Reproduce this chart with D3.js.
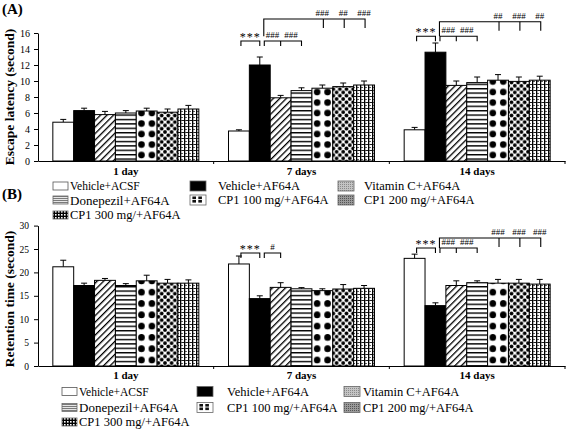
<!DOCTYPE html>
<html><head><meta charset="utf-8">
<script src="https://cdn.jsdelivr.net/npm/d3@7"></script>
<style>
body{margin:0;background:#fff}
svg{display:block}
text{font-family:"Liberation Serif","Times New Roman",serif;fill:#000}
</style>
</head><body>
<svg id="c" width="567" height="429"></svg>
<script>
const categories = ["1 day", "7 days", "14 days"];
const seriesNames = ["Vehicle+ACSF", "Vehicle+AF64A", "Vitamin C+AF64A", "Donepezil+AF64A",
  "CP1 100 mg/+AF64A", "CP1 200 mg/+AF64A", "CP1 300 mg/+AF64A"];

// Escape latency (second): one row per series, one value per category
const escapeMean = [
  [4.85, 3.75, 3.9],
  [6.3, 12.0, 13.6],
  [5.8, 7.9, 9.45],
  [6.0, 8.8, 9.8],
  [6.25, 9.1, 10.1],
  [6.1, 9.3, 9.95],
  [6.5, 9.5, 10.1]
];
const escapeErr = [
  [0.35, 0.15, 0.3],
  [0.3, 1.0, 1.15],
  [0.4, 0.3, 0.55],
  [0.3, 0.35, 0.7],
  [0.35, 0.4, 0.7],
  [0.4, 0.45, 0.55],
  [0.45, 0.5, 0.5]
];
// Retention time (second)
const retentionMean = [
  [21.2, 21.8, 23.0],
  [17.2, 14.4, 12.9],
  [18.3, 16.8, 17.2],
  [17.2, 16.5, 17.8],
  [18.2, 16.1, 17.7],
  [17.7, 16.45, 17.7],
  [17.7, 16.6, 17.5]
];
const retentionErr = [
  [1.4, 1.7, 0.9],
  [0.5, 0.6, 0.6],
  [0.4, 1.0, 1.0],
  [0.4, 0.25, 0.4],
  [1.2, 0.4, 0.8],
  [0.8, 0.95, 0.8],
  [0.7, 0.6, 1.0]
];
const escapeTicks = [0, 2, 4, 6, 8, 10, 12, 14, 16];
const retentionTicks = [0, 5, 10, 15, 20, 25, 30];

// significance brackets: category index, series indices, level in data units
const escapeSig = [
  {cat: 1, kind: "pair", a: 0, b: 1, level: 15.0, text: ["***"]},
  {cat: 1, kind: "multi", a: 1, ticks: [2, 3], level: 15.0, text: ["###", "###"]},
  {cat: 1, kind: "long", a: 1, ticks: [4, 5, 6], level: 17.75, drop: 15.6, text: ["###", "##", "###"]},
  {cat: 2, kind: "pair", a: 0, b: 1, level: 15.6, text: ["***"]},
  {cat: 2, kind: "multi", a: 1, ticks: [2, 3], level: 15.6, text: ["###", "###"]},
  {cat: 2, kind: "long", a: 1, ticks: [4, 5, 6], level: 17.4, drop: 15.6, text: ["##", "###", "##"]}
];
const retentionSig = [
  {cat: 1, kind: "pair", a: 0, b: 1, level: 24.15, text: ["***"]},
  {cat: 1, kind: "multi", a: 1, ticks: [2], level: 24.15, text: ["#"]},
  {cat: 2, kind: "pair", a: 0, b: 1, level: 25.2, text: ["***"]},
  {cat: 2, kind: "multi", a: 1, ticks: [2, 3], level: 25.2, text: ["###", "###"]},
  {cat: 2, kind: "long", a: 1, ticks: [4, 5, 6], level: 27.35, drop: 25.2, text: ["###", "###", "###"]}
];

const svg = d3.select("#c");
const defs = svg.append("defs");

// ---------- global patterns ----------
function pat(id, w, h, extra) {
  const p = defs.append("pattern").attr("id", id).attr("patternUnits", "userSpaceOnUse")
    .attr("width", w).attr("height", h);
  if (extra) Object.entries(extra).forEach(([k, v]) => p.attr(k, v));
  p.append("rect").attr("width", w).attr("height", h).attr("fill", "#fff");
  return p;
}
{ // diagonal "/"
  const p = pat("diag", 4.6, 10, {patternTransform: "rotate(45)"});
  p.append("rect").attr("x", 0).attr("y", 0).attr("width", 1.3).attr("height", 10).attr("fill", "#000");
}
{ // horizontal
  const p = pat("horiz", 10, 4.4);
  p.append("rect").attr("x", 0).attr("y", 0).attr("width", 10).attr("height", 1.4).attr("fill", "#000");
}
{ // small staggered dots
  const p = pat("sdots", 6.6, 6.6);
  [[0, 0], [6.6, 0], [0, 6.6], [6.6, 6.6], [3.3, 3.3]].forEach(([x, y]) =>
    p.append("circle").attr("cx", x).attr("cy", y).attr("r", 1.9).attr("fill", "#000"));
}
{ // weave / grid
  const p = pat("weave", 4, 6);
  p.append("rect").attr("x", 0).attr("y", 0).attr("width", 1.3).attr("height", 6).attr("fill", "#000");
  p.append("rect").attr("x", 1.3).attr("y", 0).attr("width", 2.7).attr("height", 0.9).attr("fill", "#000");
  p.append("rect").attr("x", 1.3).attr("y", 3).attr("width", 1.4).attr("height", 0.9).attr("fill", "#000");
}
// legend patterns
{
  const p = pat("lgVit", 2, 2);
  p.select("rect").attr("fill", "#c4c4c4");
  p.append("rect").attr("width", 1).attr("height", 1).attr("fill", "#8a8a8a");
}
{
  const p = pat("lgDon", 4, 2);
  p.select("rect").attr("fill", "#e6e6e6");
  p.append("rect").attr("width", 4).attr("height", 1).attr("fill", "#7a7a7a");
}
{
  const p = pat("lgC2", 2, 2);
  p.select("rect").attr("fill", "#9a9a9a");
  p.append("rect").attr("width", 1).attr("height", 1).attr("fill", "#555");
}
{
  const p = pat("lgC3", 3, 3);
  p.select("rect").attr("fill", "#000");
  p.append("rect").attr("x", 1).attr("y", 1).attr("width", 1.6).attr("height", 1.6).attr("fill", "#fff");
}

function barFill(si, id) {
  return ["#fff", "#000", "url(#diag)", "url(#horiz)", `url(#${id})`, "url(#sdots)", "url(#weave)"][si];
}

function drawPanel(cfg, means, errs, ticks, sig, yTitle) {
  const g = svg.append("g");
  const x0 = d3.scaleBand().domain(categories).range([cfg.left, cfg.right]);
  const bw = x0.bandwidth();
  const x1 = d3.scaleBand().domain(seriesNames).range([(bw - 146) / 2, (bw + 146) / 2]);
  const y = d3.scaleLinear().domain([0, ticks[ticks.length - 1]]).range([cfg.bottom, cfg.top]);

  // bars
  categories.forEach((cat, ci) => {
    seriesNames.forEach((s, si) => {
      const bx = x0(cat) + x1(s);
      const v = means[si][ci], e = errs[si][ci];
      const id = `bd-${cfg.key}-${ci}`;
      if (si === 4) {
        const p = defs.append("pattern").attr("id", id).attr("patternUnits", "userSpaceOnUse")
          .attr("x", bx).attr("y", cfg.bottom).attr("width", x1.bandwidth() / 2).attr("height", cfg.dotStep);
        p.append("rect").attr("width", x1.bandwidth() / 2).attr("height", cfg.dotStep).attr("fill", "#fff");
        p.append("circle").attr("cx", x1.bandwidth() / 4).attr("cy", cfg.dotStep - 6)
          .attr("r", 3.3).attr("fill", "#000");
      }
      // error bar
      g.append("line").attr("x1", bx + x1.bandwidth() / 2).attr("x2", bx + x1.bandwidth() / 2)
        .attr("y1", y(v)).attr("y2", y(v + e)).attr("stroke", "#000").attr("stroke-width", 1);
      g.append("line").attr("x1", bx + x1.bandwidth() / 2 - 3).attr("x2", bx + x1.bandwidth() / 2 + 3)
        .attr("y1", y(v + e)).attr("y2", y(v + e)).attr("stroke", "#000").attr("stroke-width", 1);
      g.append("rect").attr("x", bx).attr("y", y(v)).attr("width", x1.bandwidth())
        .attr("height", y(0) - y(v)).attr("fill", barFill(si, id))
        .attr("stroke", "#000").attr("stroke-width", 1);
    });
  });

  // y axis
  const ya = g.append("g").attr("transform", `translate(${cfg.left},0)`)
    .call(d3.axisLeft(y).tickValues(ticks).tickSize(4).tickSizeOuter(0).tickPadding(cfg.tickPad));
  ya.selectAll("text").style("font-family", "'Liberation Serif',serif").style("font-size", cfg.tickFont + "px").attr("fill", "#222");
  ya.selectAll("line,path").attr("stroke", "#000");

  // x axis
  const xa = g.append("g").attr("transform", `translate(0,${cfg.bottom})`)
    .call(d3.axisBottom(x0).tickSize(0).tickSizeOuter(0).tickPadding(cfg.catPad));
  xa.selectAll("path").attr("stroke", "#000");
  xa.selectAll("text").style("font-family", "'Liberation Serif',serif").style("font-size", "11px")
    .style("font-weight", "bold").attr("fill", "#000");
  categories.forEach(cat => {
    g.append("line").attr("x1", x0(cat) + bw).attr("x2", x0(cat) + bw)
      .attr("y1", cfg.bottom).attr("y2", cfg.bottom + 3).attr("stroke", "#000");
  });

  // y title
  g.append("text").attr("transform", `translate(${cfg.titleX},${cfg.titleY}) rotate(-90)`)
    .attr("text-anchor", "middle").style("font-size", "13.5px").style("font-weight", "bold").text(yTitle);

  // significance
  const c = (ci, si) => x0(categories[ci]) + x1(seriesNames[si]) + x1.bandwidth() / 2;
  const path = (d) => g.append("path").attr("d", d).attr("fill", "none").attr("stroke", "#000").attr("stroke-width", 1.1);
  const label = (x, yy, t) => {
    const star = t[0] === "*";
    g.append("text").attr("x", x).attr("y", star ? yy : yy - 3).attr("text-anchor", "middle")
      .style("font-size", star ? "12px" : "9px").style("letter-spacing", star ? "1px" : "0px").text(t);
  };
  sig.forEach(b => {
    const ly = y(b.level);
    if (b.kind === "pair") {
      const xa_ = c(b.cat, b.a) + 2, xb = c(b.cat, b.b);
      path(`M${xa_},${ly + 5}V${ly}H${xb}V${ly + 5}`);
      label((xa_ + xb) / 2, ly, b.text[0]);
    } else if (b.kind === "multi") {
      const pts = [c(b.cat, b.a) + 4.5, ...b.ticks.map(t => c(b.cat, t))];
      path(`M${pts[0]},${ly + 5}V${ly}H${pts[pts.length - 1]}V${ly + 5}`);
      pts.slice(1, -1).forEach(px => path(`M${px},${ly}V${ly + 5}`));
      b.text.forEach((t, i) => label((pts[i] + pts[i + 1]) / 2, ly, t));
    } else {
      const xs = c(b.cat, b.a) + 4;
      const tx = b.ticks.map(t => c(b.cat, t) + 1);
      path(`M${xs},${y(b.drop)}V${ly}H${tx[tx.length - 1]}V${ly + 9}`);
      tx.slice(0, -1).forEach(px => path(`M${px},${ly}V${ly + 9}`));
      b.text.forEach((t, i) => label(tx[i] - 1, ly, t));
    }
  });
}

function drawLegend(cfg) {
  const g = svg.append("g");
  const fills = ["#fff", "#000", "url(#lgVit)", "url(#lgDon)", null, "url(#lgC2)", "url(#lgC3)"];
  seriesNames.forEach((s, i) => {
    const col = i % 3, row = Math.floor(i / 3);
    const bx = cfg.boxX[col], ty = cfg.rows[row];
    const w = col === 0 ? 15 : 16, h = col === 0 ? 8 : 10;
    g.append("rect").attr("x", bx).attr("y", ty - h / 2).attr("width", w).attr("height", h)
      .attr("fill", fills[i] || "#fff").attr("stroke", i === 0 ? "#555" : "#666").attr("stroke-width", 0.8);
    if (i === 4) {
      [[0.25, 0.27], [0.62, 0.27], [0.25, 0.62], [0.62, 0.62]].forEach(([fx, fy]) =>
        g.append("rect").attr("x", bx + fx * w - 1.6).attr("y", ty - h / 2 + fy * h - 1.2)
          .attr("width", 3.6).attr("height", 2.6).attr("fill", "#111"));
    }
    g.append("text").attr("x", cfg.textX[col]).attr("y", ty).attr("dy", "0.35em")
      .style("font-size", cfg.fonts[i] + "px").text(s);
  });
}

drawPanel({key: "a", left: 38, right: 565, top: 33, bottom: 161, tickPad: 4, tickFont: 10,
  catPad: 6, titleX: 14, titleY: 97, dotStep: 10.5}, escapeMean, escapeErr, escapeTicks, escapeSig,
  "Escape latency (second)");
drawPanel({key: "b", left: 38, right: 565, top: 225.6, bottom: 366, tickPad: 5, tickFont: 9.5,
  catPad: 5, titleX: 14, titleY: 299, dotStep: 11.3}, retentionMean, retentionErr, retentionTicks, retentionSig,
  "Retention time (second)");

drawLegend({boxX: [53, 190, 338], textX: [70, 218, 364], rows: [186, 200, 215],
  fonts: [11.5, 12.5, 12.5, 13, 12.5, 12.5, 12.5]});
drawLegend({boxX: [62, 197, 344], textX: [79, 227, 363], rows: [391.5, 407.5, 422],
  fonts: [11.5, 12.5, 12.5, 13, 12.5, 12.5, 12.5]});

svg.append("text").attr("x", 2).attr("y", 14).style("font-size", "15px").style("font-weight", "bold").text("(A)");
svg.append("text").attr("x", 2).attr("y", 199).style("font-size", "15px").style("font-weight", "bold").text("(B)");
</script>
</body></html>
